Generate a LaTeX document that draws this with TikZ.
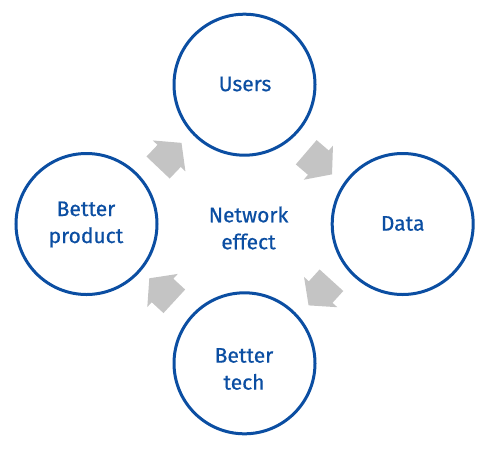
\documentclass[tikz,border=0pt]{standalone}
\usepackage{fontspec}
\setmainfont{Fira Sans}
\newfontfamily\lblfont{Fira Sans}[FakeBold=0.6]
\definecolor{cblue}{HTML}{0B4EA2}
\definecolor{agrey}{HTML}{C4C4C4}
\begin{document}
\begin{tikzpicture}[x=1pt,y=-1pt,
  lbl/.style={text=cblue, font=\lblfont\fontsize{21}{27}\selectfont, align=center},
  circ/.style={circle, draw=cblue, line width=3pt, minimum size=141pt, inner sep=0pt},
  garrow/.pic={\fill[agrey] (-17,-16) -- (-1,-16) -- (-1,-22.5) -- (17,0) -- (-1,22.5) -- (-1,16) -- (-17,16) -- cycle;}]
\useasboundingbox (0,0) rectangle (494,450);
\node[circ] (users) at (244.5,84.7) {};
\node[circ] (data) at (402.7,224) {};
\node[circ] (tech) at (244.5,363.3) {};
\node[circ] (product) at (86.5,224) {};
\node[lbl] (tusers) at (245,84) {Users};
\node[lbl] (tdata) at (402.7,223.5) {Data};
\node[lbl] (ttech) at (244,369) {Better\\tech};
\node[lbl] (tproduct) at (86,224.5) {Better\\product};
\node[lbl] (center) at (248.5,228) {Network\\effect};
\pic[rotate=46.5] (a1) at (169.8,155.2) {garrow};
\pic[rotate=-40.6] (a2) at (319.1,163.3) {garrow};
\pic[rotate=-132.3] (a3) at (320,292.8) {garrow};
\pic[rotate=137.4] (a4) at (161.8,289.8) {garrow};
\end{tikzpicture}
\end{document}
